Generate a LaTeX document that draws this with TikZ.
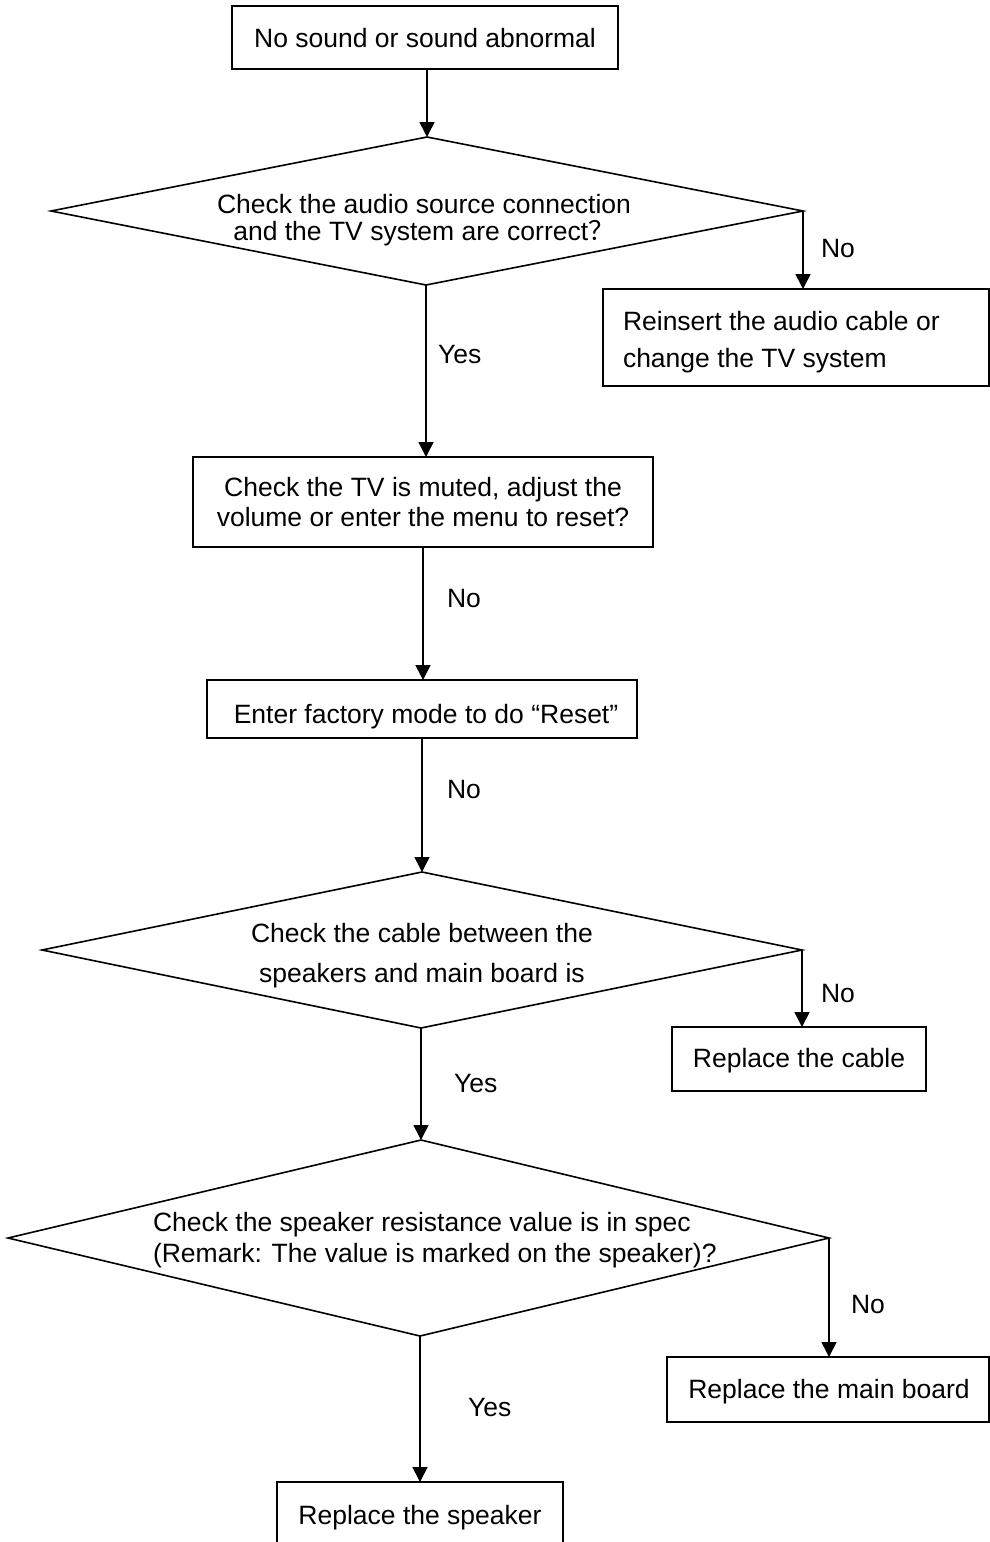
\documentclass[tikz,border=0pt]{standalone}
\usepackage{fontspec}
\setmainfont{Liberation Sans}
\newfontfamily\cjk{Noto Sans CJK SC}
\usetikzlibrary{arrows.meta}
\tikzset{
  boxstyle/.style={draw, line width=1.6pt, rectangle, inner sep=0pt, outer sep=0pt},
  txt/.style={inner sep=0pt, outer sep=0pt, font=\fontsize{26.5}{30}\selectfont},
  lbl/.style={inner sep=0pt, outer sep=0pt, font=\fontsize{26.5}{30}\selectfont, anchor=base west},
  dia/.style={draw, line width=1.6pt, line join=miter},
  arr/.style={draw, line width=1.6pt, -{Triangle[length=15pt,width=15pt]}},
}
\begin{document}
\begin{tikzpicture}[x=1pt,y=-1pt]
\useasboundingbox (0,0) rectangle (990,1542);
\clip (0,0) rectangle (990,1542);

% boxes
\node[boxstyle, minimum width=386pt, minimum height=63pt] (b1) at (425,37.5) {};
\node[txt, anchor=base] (b1t) at (425,47.5) {No sound or sound abnormal};

\node[boxstyle, minimum width=386pt, minimum height=97pt] (b2) at (796,337.5) {};
\node[txt, anchor=west, align=left, font=\fontsize{26.5}{37}\selectfont] (b2t) at (623,342) {Reinsert the audio cable or\\change the TV system};

\node[boxstyle, minimum width=460pt, minimum height=90pt] (b3) at (423,502) {};
\node[txt, align=center, font=\fontsize{26.5}{30}\selectfont] (b3t) at (423,502.5) {Check the TV is muted, adjust the\\volume or enter the menu to reset?};

\node[boxstyle, minimum width=430pt, minimum height=58pt] (b4) at (422,709) {};
\node[txt, anchor=base] (b4t) at (426,723) {Enter factory mode to do “Reset”};

\node[boxstyle, minimum width=254pt, minimum height=64pt] (b5) at (799,1059) {};
\node[txt, anchor=base] (b5t) at (799,1067) {Replace the cable};

\node[boxstyle, minimum width=322pt, minimum height=65pt] (b6) at (828,1389.5) {};
\node[txt, anchor=base] (b6t) at (829,1398) {Replace the main board};

\node[boxstyle, minimum width=286pt, minimum height=78pt] (b7) at (420,1521) {};
\node[txt, anchor=base] (b7t) at (420,1524) {Replace the speaker};

% diamond 1
\coordinate (d1w) at (51,211);
\coordinate (d1n) at (427,137);
\coordinate (d1e) at (803,211);
\coordinate (d1s) at (426,285);
\draw[dia] (d1w) -- (d1n) -- (d1e) -- (d1s) -- cycle;
\node[txt, align=center, font=\fontsize{26.5}{27}\selectfont] (d1) at (424,220) {Check the audio source connection\\and the TV system are correct{\cjk ？}};

% diamond 2
\coordinate (d2w) at (42,950);
\coordinate (d2n) at (422,872);
\coordinate (d2e) at (802,950);
\coordinate (d2s) at (421,1028);
\draw[dia] (d2w) -- (d2n) -- (d2e) -- (d2s) -- cycle;
\node[txt, align=center, font=\fontsize{26.5}{40}\selectfont] (d2) at (422,955.5) {Check the cable between the\\speakers and main board is};

% diamond 3
\coordinate (d3w) at (8,1238);
\coordinate (d3n) at (421,1140);
\coordinate (d3e) at (829,1238);
\coordinate (d3s) at (420,1336);
\draw[dia] (d3w) -- (d3n) -- (d3e) -- (d3s) -- cycle;
\node[txt, anchor=west, align=left, font=\fontsize{26.5}{31}\selectfont] (d3) at (153,1240) {Check the speaker resistance value is in spec\\(Remark: The value is marked on the speaker)?};

% connectors
\draw[arr] (b1.south -| d1n) -- (d1n);
\draw[arr] (d1s) -- (d1s |- b3.north);
\draw[arr] (d1e) -- (d1e |- b2.north);
\draw[arr] (b3.south) -- (b3.south |- b4.north);
\draw[arr] (b4.south -| d2n) -- (d2n);
\draw[arr] (d2e) -- (d2e |- b5.north);
\draw[arr] (d2s) -- (d3n);
\draw[arr] (d3e) -- (d3e |- b6.north);
\draw[arr] (d3s) -- (b7.north);

% labels
\node[lbl] (l1) at (821,257) {No};
\node[lbl] (l2) at (438,363) {Yes};
\node[lbl] (l3) at (447,607) {No};
\node[lbl] (l4) at (447,798) {No};
\node[lbl] (l5) at (821,1002) {No};
\node[lbl] (l6) at (454,1092) {Yes};
\node[lbl] (l7) at (851,1313) {No};
\node[lbl] (l8) at (468,1416) {Yes};
\end{tikzpicture}
\end{document}
